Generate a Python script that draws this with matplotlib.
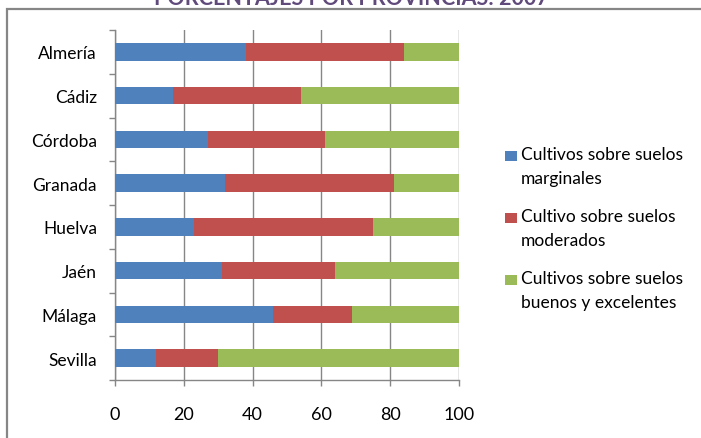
import matplotlib
matplotlib.use('Agg')
import matplotlib.pyplot as plt
from matplotlib.patches import Rectangle
import numpy as np

plt.rcParams['font.family'] = ['Lato', 'DejaVu Sans']

TITLE = 'PORCENTAJES POR PROVINCIAS: 2007'
provincias = ['Almería', 'Cádiz', 'Córdoba', 'Granada', 'Huelva', 'Jaén', 'Málaga', 'Sevilla']
marginales = [38, 17, 27, 32, 23, 31, 46, 12]
moderados = [46, 37, 34, 49, 52, 33, 23, 18]
buenos = [16, 46, 39, 19, 25, 36, 31, 70]
series_names = ['Cultivos sobre suelos\nmarginales',
                'Cultivo sobre suelos\nmoderados',
                'Cultivos sobre suelos\nbuenos y excelentes']
x_ticks = [0, 20, 40, 60, 80, 100]

COLORS = ['#4F81BD', '#C0504D', '#9BBB59']
GRAY = '#868686'

W, H = 701, 439
fig = plt.figure(figsize=(W / 100, H / 100), dpi=100)

# chart area border (cut by the image edges)
fig.add_artist(Rectangle((7 / W, -0.2), 1.2, (H - 10) / H + 0.2,
                         transform=fig.transFigure, fill=False,
                         edgecolor=GRAY, linewidth=1.6))

# title, mostly cut off at top
fig.text(351 / W, (H - 5) / H, TITLE, ha='center', va='baseline',
         fontsize=15.5, fontweight='bold', color='#604A7B')

ax = fig.add_axes([115 / W, 58 / H, 344 / W, 350 / H])

y = np.arange(len(provincias))
left = np.zeros(len(provincias))
for vals, color in zip([marginales, moderados, buenos], COLORS):
    ax.barh(y, vals, left=left, height=0.4, color=color, zorder=3)
    left += np.array(vals)

ax.set_xlim(0, 100)
ax.set_ylim(len(provincias) - 0.5, -0.5)
ax.set_xticks(x_ticks)
ax.set_xticklabels([str(t) for t in x_ticks], fontsize=13)
ax.set_yticks(y)
ax.set_yticklabels(provincias, fontsize=12.5)
ax.set_yticks(np.arange(len(provincias) + 1) - 0.5, minor=True)

ax.tick_params(axis='y', which='major', length=0, pad=13)
ax.tick_params(axis='y', which='minor', length=4, color=GRAY, width=1)
ax.tick_params(axis='x', which='major', length=4.5, color=GRAY, width=1, pad=14)

ax.xaxis.grid(True, color=GRAY, linewidth=1, zorder=0)
ax.set_axisbelow(True)
for side in ['top', 'right']:
    ax.spines[side].set_visible(False)
for side in ['left', 'bottom']:
    ax.spines[side].set_color(GRAY)
    ax.spines[side].set_linewidth(1)

# legend
for i, (name, color) in enumerate(zip(series_names, COLORS)):
    top = 147 + i * 62
    fig.add_artist(Rectangle((505 / W, (H - top - 15) / H), 12 / W, 10 / H,
                             transform=fig.transFigure, facecolor=color,
                             edgecolor='none'))
    fig.text(521 / W, (H - top) / H, name, ha='left', va='top',
             fontsize=12.5, linespacing=1.65, color='black')

fig.savefig('out.png', dpi=100)
